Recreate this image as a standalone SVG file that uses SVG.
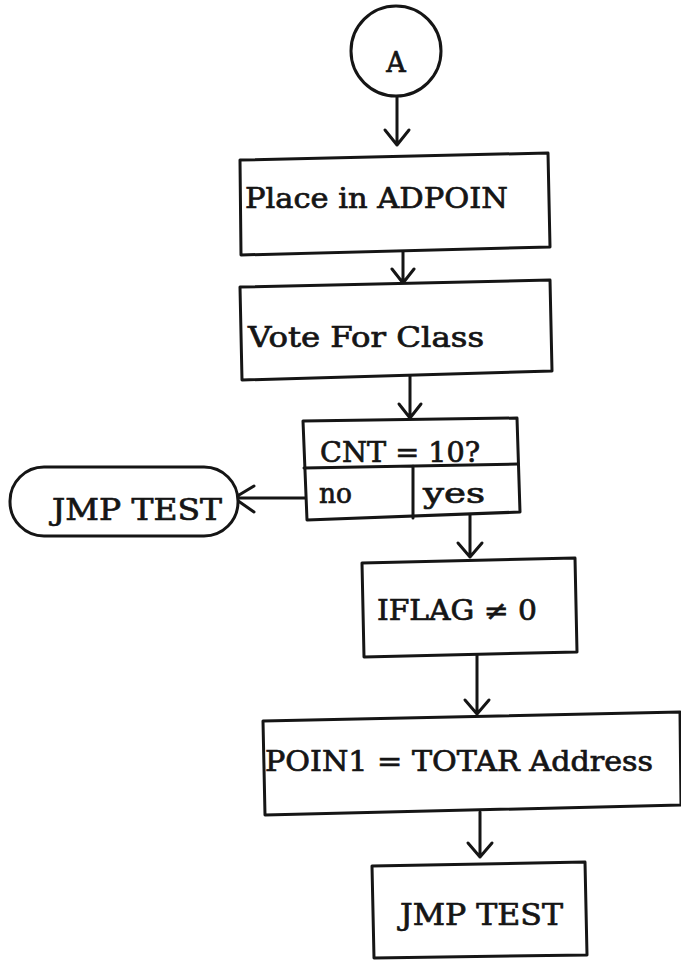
<svg xmlns="http://www.w3.org/2000/svg" width="681" height="965" viewBox="0 0 681 965">
<style>
.s{fill:none;stroke:#151515;stroke-width:3;stroke-linejoin:round;stroke-linecap:round}
.b{fill:#fff;stroke:#151515;stroke-width:3;stroke-linejoin:round}
.t{font-family:"DejaVu Serif","Liberation Serif",serif;font-size:27px;fill:#151515;stroke:#151515;stroke-width:0.7}
.l{font-size:29px}
</style>
<rect width="681" height="965" fill="#fff"/>
<g id="connectors">
<path class="s" d="M397 95V145M385 130L397 145L409 130"/>
<path class="s" d="M403 252V282M392 269L403 283L414 269"/>
<path class="s" d="M410 376V418M399 404L410 418L421 404"/>
<path class="s" d="M305 498H234M254 486L234 498L254 512"/>
<path class="s" d="M470 514V557M458 543L470 557L482 543"/>
<path class="s" d="M477 655V714M465 700L477 714L489 700"/>
<path class="s" d="M480 812V857M468 843L480 857L492 843"/>
</g>
<g id="startA">
<circle class="b" cx="396" cy="51" r="45"/>
<text class="t" x="396" y="72" text-anchor="middle">A</text>
</g>
<g id="placeAdpoin">
<polygon class="b" points="240,160 548,153 550,247 241,255"/>
<text class="t" x="245" y="208" textLength="263" lengthAdjust="spacingAndGlyphs">Place in ADPOIN</text>
</g>
<g id="voteClass">
<polygon class="b" points="240,287 550,280 552,371 242,380"/>
<text class="t" x="248" y="347" textLength="236" lengthAdjust="spacingAndGlyphs">Vote For Class</text>
</g>
<g id="cntDecision">
<polygon class="b" points="303,421 517,418 520,512 307,520"/>
<path class="s" d="M304 468L518 464M413 466V518"/>
<text class="t" x="320" y="462" textLength="160" lengthAdjust="spacingAndGlyphs">CNT = 10?</text>
<text class="t" x="319" y="503" textLength="33" lengthAdjust="spacingAndGlyphs">no</text>
<text class="t" x="423" y="503" textLength="62" lengthAdjust="spacingAndGlyphs">yes</text>
</g>
<g id="jmpTestTerminal">
<rect class="b" x="10" y="467" width="228" height="69" rx="34"/>
<text class="t l" x="52" y="520" textLength="170" lengthAdjust="spacingAndGlyphs">JMP TEST</text>
</g>
<g id="iflag">
<polygon class="b" points="362,563 575,558 577,652 364,657"/>
<text class="t" x="377" y="620" textLength="160" lengthAdjust="spacingAndGlyphs">IFLAG ≠ 0</text>
</g>
<g id="poin1">
<polygon class="b" points="263,721 680,712 681,805 265,815"/>
<text class="t" x="265" y="771" textLength="388" lengthAdjust="spacingAndGlyphs">POIN1 = TOTAR Address</text>
</g>
<g id="jmpTestBox">
<polygon class="b" points="372,866 585,862 587,955 374,958"/>
<text class="t l" x="400" y="925" textLength="163" lengthAdjust="spacingAndGlyphs">JMP TEST</text>
</g>
</svg>
